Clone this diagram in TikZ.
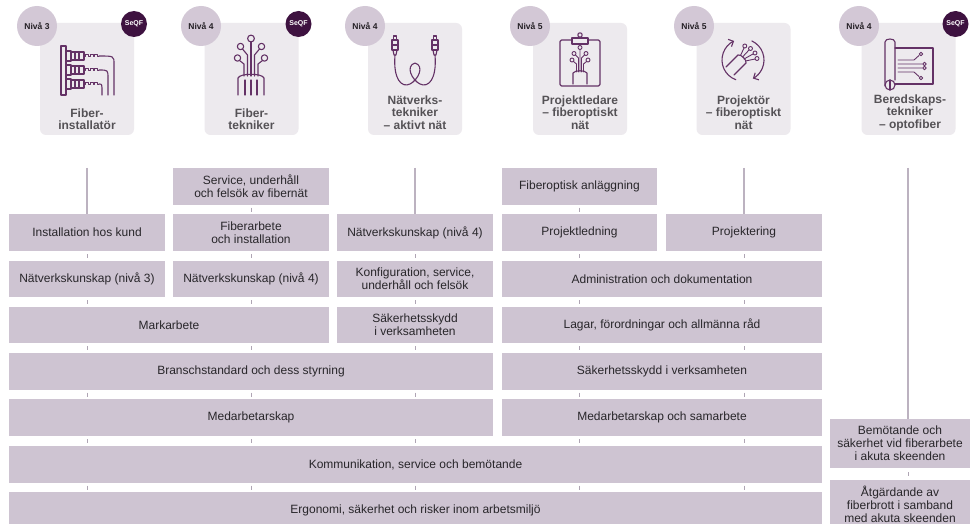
\documentclass[tikz,border=0pt]{standalone}
\usepackage{fontspec}
\setmainfont{Liberation Sans}
\usetikzlibrary{arrows.meta}
\definecolor{boxfill}{RGB}{206,196,210}
\definecolor{boxtext}{RGB}{40,38,42}
\definecolor{cardfill}{RGB}{237,234,238}
\definecolor{nivafill}{RGB}{211,200,214}
\definecolor{nivatext}{RGB}{35,30,36}
\definecolor{seqfc}{RGB}{62,18,64}
\definecolor{titletext}{RGB}{85,82,86}
\definecolor{iconc}{RGB}{100,50,102}
\definecolor{linec}{RGB}{188,178,192}
\definecolor{tickc}{RGB}{175,165,180}
\newcommand{\skbox}[6]{%
  \pgfmathsetmacro{\skbw}{#3-#2}\pgfmathsetmacro{\skbh}{#5-#4}%
  \node[box, minimum width=\skbw pt, minimum height=\skbh pt] (#1) at ({(#2+#3)/2},{(#4+#5)/2}) {#6};}
\begin{document}
\begin{tikzpicture}[x=1pt,y=-1pt,
  box/.style={fill=boxfill, draw=none, inner sep=0pt, outer sep=0pt, align=center,
    font=\fontsize{12}{13}\selectfont, text=boxtext},
  card/.style={fill=cardfill, draw=none, rounded corners=6pt, minimum width=94pt,
    minimum height=112pt, inner sep=0pt},
  niva/.style={circle, fill=nivafill, minimum size=40pt, inner sep=0pt,
    font=\bfseries\fontsize{8.5}{10}\selectfont, text=nivatext},
  seqf/.style={circle, fill=seqfc, minimum size=26pt, inner sep=0pt,
    font=\bfseries\fontsize{7}{8}\selectfont, text=white},
  title/.style={align=center, font=\bfseries\fontsize{12}{12.5}\selectfont,
    text=titletext, inner sep=0pt},
  ic/.style={draw=iconc, line width=1.1pt, line cap=round, line join=round},
  vline/.style={draw=linec, line width=1.2pt},
  tickl/.style={draw=tickc, line width=0.9pt}]
\clip (0,0) rectangle (972,524);
\fill[white] (0,0) rectangle (972,524);

% ---------- cards ----------
\node[card] (c1) at (87,79) {};
\node[card] (c2) at (251.5,79) {};
\node[card] (c3) at (415,79) {};
\node[card] (c4) at (580,79) {};
\node[card] (c5) at (743.5,79) {};
\node[card] (c6) at (908.5,79) {};

\node[niva] (n1) at (37,26) {Nivå 3};
\node[niva] (n2) at (201,26) {Nivå 4};
\node[niva] (n3) at (365,26) {Nivå 4};
\node[niva] (n4) at (530,26) {Nivå 5};
\node[niva] (n5) at (694,26) {Nivå 5};
\node[niva] (n6) at (859,26) {Nivå 4};

\node[seqf] (s1) at (134,24) {SeQF};
\node[seqf] (s2) at (298.5,24) {SeQF};
\node[seqf] (s6) at (955.5,24) {SeQF};

\node[title] (t1) at (87,119) {Fiber-\\installatör};
\node[title] (t2) at (251.5,119) {Fiber-\\tekniker};
\node[title] (t3) at (415,112.5) {Nätverks-\\tekniker\\– aktivt nät};
\node[title] (t4) at (580,112.5) {Projektledare\\– fiberoptiskt\\nät};
\node[title] (t5) at (743.5,112.5) {Projektör\\– fiberoptiskt\\nät};
\node[title] (t6) at (910,112.5) {Beredskaps-\\tekniker\\– optofiber};

% ---------- icon 1 ----------
\draw[ic] (61,46) rectangle (66,95);
\foreach \y/\xe in {56/114,70/108,84/102} {
  \draw[ic] (66,\y-5) rectangle (71,\y+5);
  \draw[ic] (71,\y-4) rectangle (84,\y+4);
  \draw[ic] (75,\y-4) -- (75,\y+4) (79,\y-4) -- (79,\y+4);
  \draw[ic, line width=0.8pt] (84,\y) -- (85.5,\y) -- (85.5,\y-2) -- (88.5,\y-2) -- (88.5,\y) -- (90,\y) -- (90,\y-2) -- (93,\y-2) -- (93,\y) -- (94.5,\y) -- (94.5,\y-2) -- (97.5,\y-2) -- (97.5,\y) -- (99,\y);
  \draw[ic] (99,\y) .. controls (\xe,\y) and (\xe,\y) .. (\xe,\y+8) -- (\xe,95);
}

% ---------- icon 2 ----------
\draw[ic] (238,95) -- (238,78) .. controls (240,73) and (262,73) .. (264,78) -- (264,95);
\draw[ic] (245,80) -- (245,95) (251,80) -- (251,95) (257,80) -- (257,95);
\draw[ic] (244,76) -- (244,64) -- (239.5,60.5);
\draw[ic] (247.5,76) -- (247.5,55) -- (242.5,49);
\draw[ic] (251,76) -- (251,42);
\draw[ic] (254.5,76) -- (254.5,55) -- (259.5,49);
\draw[ic] (258,76) -- (258,64) -- (262.5,60.5);
\draw[ic] (237.5,58) circle (3.2) (240.5,46.5) circle (3.2) (251,38.5) circle (3.4)
  (261.5,46.5) circle (3.2) (264.5,58) circle (3.2);

% ---------- icon 3 ----------
\foreach \xo in {395,435} {
  \draw[ic] (\xo-1.5,36) rectangle (\xo+1.5,40);
  \draw[ic] (\xo-3,40) rectangle (\xo+3,50);
  \draw[ic] (\xo-3,45) -- (\xo+3,45);
  \draw[ic] (\xo-2,50) -- (\xo-1,55) -- (\xo+1,55) -- (\xo+2,50);
}
\draw[ic] (395,55) .. controls (393,80) and (402,88) .. (410,84)
  .. controls (418,80) and (425,66) .. (415,63)
  .. controls (405,66) and (412,80) .. (420,84)
  .. controls (428,88) and (437,80) .. (435,55);

% ---------- icon 4 ----------
\draw[ic, rounded corners=1.5pt] (560,40) rectangle (600,86);
\draw[ic, fill=cardfill] (572,44) rectangle (588,38);
\draw[ic, fill=cardfill] (580,35) circle (2.2);
\draw[ic] (573,84) -- (573,73) .. controls (575,70) and (585,70) .. (587,73) -- (587,84);
\draw[ic, line width=0.9pt] (576.5,72) -- (576.5,64) -- (573.5,61.5)
  (578.5,72) -- (578.5,58) -- (575.5,55)
  (580,72) -- (580,50)
  (581.5,72) -- (581.5,58) -- (584.5,55)
  (583.5,72) -- (583.5,64) -- (586.5,61.5);
\draw[ic, line width=0.9pt] (572,60) circle (2) (574,53.5) circle (2) (580,47.5) circle (2)
  (586,53.5) circle (2) (588,60) circle (2);

% ---------- icon 5 ----------
\begin{scope}[shift={(743,60)},yscale=-1]
  \draw[ic, -{Straight Barb[length=4pt,width=8pt]}] (250:21) arc[start angle=250, end angle=115, radius=21];
  \draw[ic, -{Straight Barb[length=4pt,width=8pt]}] (65:21) arc[start angle=65, end angle=-62, radius=21];
  \draw[ic] (-17,-7) -- (-5,5) (-9,-15) -- (3,-3);
  \draw[ic] (-5,5) .. controls (-2,6) and (4,0) .. (3,-3);
  \draw[ic, line width=0.9pt] (-2.5,4.5) -- (1,12) (-0.5,3) -- (6,10) (1,1) -- (10,6) (2.5,-1) -- (12,1);
  \draw[ic, line width=0.9pt] (1.8,14) circle (2) (7.5,11.5) circle (2) (12,7) circle (2) (14,1.5) circle (2);
\end{scope}

% ---------- icon 6 ----------
\draw[ic] (885,86) -- (885,42) .. controls (885,38) and (895,38) .. (895,42) -- (895,80);
\draw[ic] (890,85) circle (5);
\draw[ic] (890,80) -- (890,90);
\draw[ic] (895,48) -- (933,48) -- (933,84) -- (895,84);
\draw[ic, line width=0.9pt] (898,60) -- (914,60) -- (919,55.5)
  (898,64) -- (922,64)
  (898,68) -- (922,68)
  (898,72) -- (914,72) -- (919,76.5);
\draw[ic, line width=0.9pt] (921,54) circle (1.8) (924.5,64) circle (1.8) (924.5,68) circle (1.8) (921,78) circle (1.8);

% ---------- competence boxes ----------
\skbox{b02}{173}{329}{168}{205}{Service, underhåll\\och felsök av fibernät}
\skbox{b04}{502}{657}{168}{205}{Fiberoptisk anläggning}
\skbox{b11}{9}{165}{214}{251}{Installation hos kund}
\skbox{b12}{173}{329}{214}{251}{Fiberarbete\\och installation}
\skbox{b13}{337}{493}{214}{251}{Nätverkskunskap (nivå 4)}
\skbox{b14}{502}{657}{214}{251}{Projektledning}
\skbox{b15}{666}{822}{214}{251}{Projektering}
\skbox{b21}{9}{165}{261}{297}{Nätverkskunskap (nivå 3)}
\skbox{b22}{173}{329}{261}{297}{Nätverkskunskap (nivå 4)}
\skbox{b23}{337}{493}{261}{297}{Konfiguration, service,\\underhåll och felsök}
\skbox{b24}{502}{822}{261}{297}{Administration och dokumentation}
\skbox{b31}{9}{329}{307}{343}{Markarbete}
\skbox{b33}{337}{493}{307}{343}{Säkerhetsskydd\\i verksamheten}
\skbox{b34}{502}{822}{307}{343}{Lagar, förordningar och allmänna råd}
\skbox{b41}{9}{493}{353}{390}{Branschstandard och dess styrning}
\skbox{b44}{502}{822}{353}{390}{Säkerhetsskydd i verksamheten}
\skbox{b51}{9}{493}{399}{436}{Medarbetarskap}
\skbox{b54}{502}{822}{399}{436}{Medarbetarskap och samarbete}
\skbox{b61}{9}{822}{446}{483}{Kommunikation, service och bemötande}
\skbox{b71}{9}{822}{492}{529}{Ergonomi, säkerhet och risker inom arbetsmiljö}
\skbox{b66}{830}{970}{419}{468}{Bemötande och\\säkerhet vid fiberarbete\\i akuta skeenden}
\skbox{b76}{830}{970}{480}{529}{Åtgärdande av\\fiberbrott i samband\\med akuta skeenden}

% ---------- long connectors ----------
\coordinate (v1) at (87,168);
\coordinate (v3) at (415,168);
\coordinate (v5) at (744,168);
\coordinate (v6) at (908,168);
\draw[vline] (v1) -- (b11.north);
\draw[vline] (v3) -- (b13.north);
\draw[vline] (v5) -- (b15.north);
\draw[vline] (v6) -- (v6 |- b66.north);

% ---------- short ticks between rows ----------
\foreach \x in {87,415,744} {
  \foreach \y in {256,302,348,394.5,441,487.5} {
    \draw[tickl] (\x,\y-2) -- (\x,\y+2);
  }
}
\foreach \x in {251,579} {
  \foreach \y in {209.5,256,302,348,394.5,441,487.5} {
    \draw[tickl] (\x,\y-2) -- (\x,\y+2);
  }
}
\draw[tickl] (908,472) -- (908,476);
\end{tikzpicture}
\end{document}
